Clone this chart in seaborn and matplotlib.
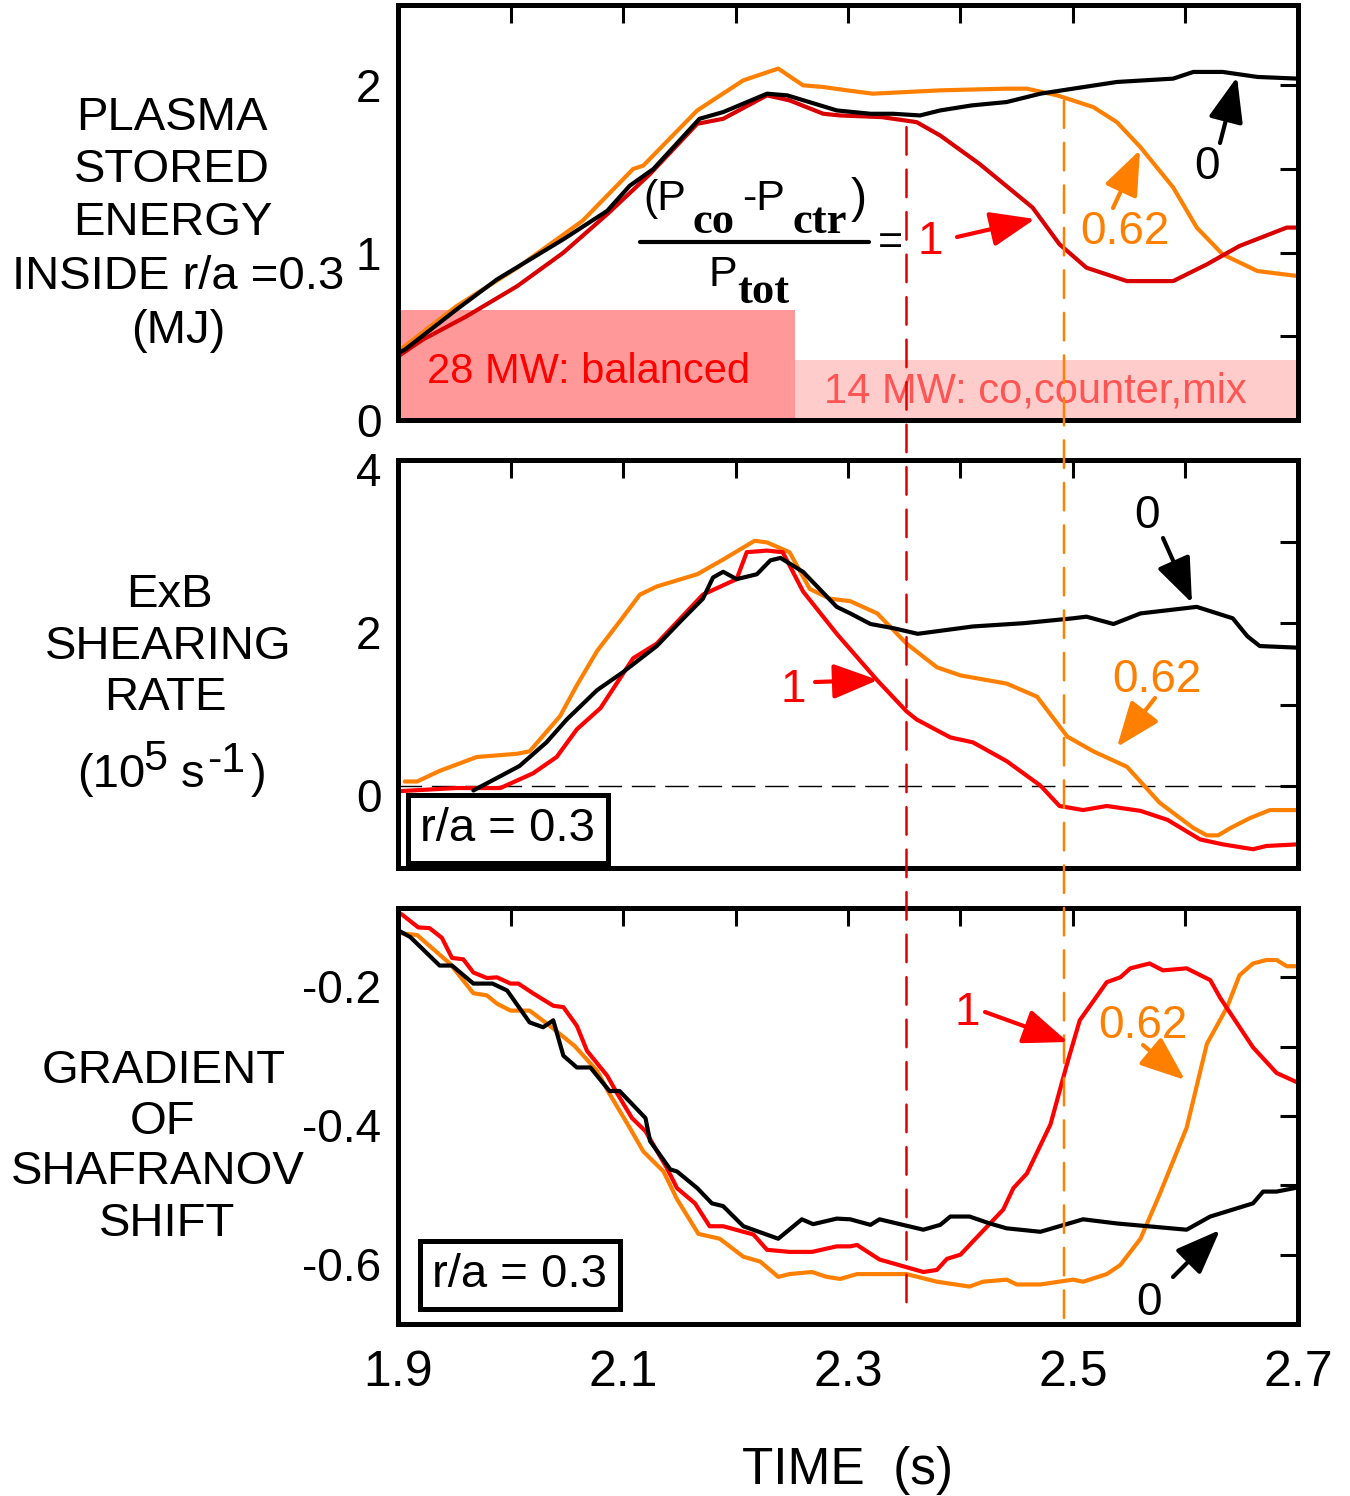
import matplotlib
matplotlib.use("Agg")
import matplotlib.pyplot as plt
import seaborn as sns
from matplotlib.patches import ConnectionPatch, FancyArrowPatch
from matplotlib.lines import Line2D
from matplotlib.ticker import FixedLocator
from matplotlib.transforms import ScaledTranslation

# ======================= DATA =======================
# Panel 1: plasma stored energy inside r/a = 0.3 (MJ)
w_black_t = [1.900, 1.906, 1.952, 1.988, 2.047, 2.086, 2.106, 2.127, 2.168, 2.189, 2.228, 2.246,
             2.290, 2.320, 2.340, 2.364, 2.382, 2.410, 2.441, 2.471, 2.500, 2.539, 2.589, 2.607,
             2.633, 2.664, 2.700]
w_black = [0.40, 0.42, 0.66, 0.84, 1.08, 1.25, 1.40, 1.50, 1.80, 1.84, 1.95, 1.94,
           1.85, 1.83, 1.83, 1.82, 1.85, 1.88, 1.90, 1.95, 1.98, 2.02, 2.04, 2.08,
           2.08, 2.05, 2.04]
w_red_t = [1.900, 1.922, 1.961, 2.006, 2.047, 2.086, 2.124, 2.166, 2.189, 2.228, 2.248, 2.278,
           2.293, 2.330, 2.361, 2.382, 2.417, 2.464, 2.488, 2.512, 2.548, 2.589, 2.619, 2.648,
           2.690, 2.700]
w_red = [0.38, 0.48, 0.62, 0.80, 1.00, 1.23, 1.47, 1.77, 1.80, 1.94, 1.91, 1.83,
         1.82, 1.81, 1.78, 1.70, 1.53, 1.27, 1.05, 0.91, 0.83, 0.83, 0.93, 1.04,
         1.15, 1.15]
w_orange_t = [1.900, 1.952, 2.006, 2.064, 2.109, 2.118, 2.166, 2.207, 2.238, 2.260, 2.278, 2.299,
              2.322, 2.382, 2.441, 2.459, 2.486, 2.518, 2.539, 2.560, 2.589, 2.610, 2.633, 2.664,
              2.700]
w_orange = [0.41, 0.68, 0.91, 1.19, 1.50, 1.52, 1.85, 2.03, 2.10, 2.00, 1.99, 1.97,
            1.95, 1.97, 1.98, 1.98, 1.94, 1.87, 1.78, 1.63, 1.39, 1.15, 0.99, 0.89,
            0.86]

# Panel 2: ExB shearing rate (1e5 s^-1)
s_black_t = [1.967, 2.008, 2.032, 2.050, 2.077, 2.100, 2.130, 2.153, 2.171, 2.180, 2.189, 2.201,
             2.219, 2.231, 2.240, 2.260, 2.290, 2.302, 2.320, 2.340, 2.362, 2.411, 2.456, 2.500,
             2.512, 2.536, 2.560, 2.610, 2.642, 2.655, 2.666, 2.700]
s_black = [-0.05, 0.25, 0.54, 0.82, 1.18, 1.40, 1.72, 2.05, 2.30, 2.56, 2.63, 2.54,
           2.60, 2.77, 2.80, 2.63, 2.20, 2.12, 1.99, 1.94, 1.87, 1.96, 2.00, 2.06,
           2.08, 1.99, 2.12, 2.20, 2.06, 1.84, 1.72, 1.70]
s_red_t = [1.899, 1.952, 1.991, 2.020, 2.041, 2.059, 2.080, 2.109, 2.130, 2.171, 2.201, 2.210,
           2.228, 2.242, 2.260, 2.290, 2.326, 2.352, 2.361, 2.391, 2.411, 2.441, 2.471, 2.488,
           2.509, 2.530, 2.560, 2.584, 2.613, 2.633, 2.660, 2.672, 2.700]
s_red = [-0.06, -0.02, -0.02, 0.16, 0.36, 0.70, 0.96, 1.57, 1.75, 2.35, 2.54, 2.87,
         2.89, 2.87, 2.39, 1.87, 1.30, 0.92, 0.82, 0.60, 0.54, 0.31, 0.01, -0.24,
         -0.29, -0.24, -0.30, -0.41, -0.65, -0.71, -0.77, -0.73, -0.71]
s_orange_t = [1.906, 1.917, 1.937, 1.970, 2.006, 2.017, 2.044, 2.059, 2.077, 2.097, 2.115, 2.130,
              2.166, 2.189, 2.217, 2.228, 2.248, 2.266, 2.284, 2.302, 2.326, 2.352, 2.379, 2.400,
              2.441, 2.468, 2.495, 2.518, 2.548, 2.577, 2.607, 2.619, 2.629, 2.640, 2.657, 2.675,
              2.700]
s_orange = [0.06, 0.06, 0.19, 0.36, 0.40, 0.43, 0.86, 1.24, 1.66, 2.02, 2.35, 2.45,
            2.60, 2.78, 3.01, 2.99, 2.87, 2.42, 2.30, 2.27, 2.12, 1.75, 1.46, 1.36,
            1.26, 1.10, 0.61, 0.43, 0.24, -0.20, -0.51, -0.60, -0.60, -0.51, -0.39, -0.29,
            -0.29]

# Panel 3: gradient of Shafranov shift
g_black_t = [1.900, 1.911, 1.937, 1.948, 1.967, 1.984, 1.997, 2.017, 2.029, 2.038, 2.047, 2.059,
             2.071, 2.088, 2.097, 2.120, 2.124, 2.142, 2.148, 2.166, 2.179, 2.189, 2.207, 2.238,
             2.259, 2.269, 2.290, 2.302, 2.320, 2.328, 2.367, 2.382, 2.391, 2.408, 2.426, 2.441,
             2.471, 2.509, 2.539, 2.601, 2.622, 2.660, 2.669, 2.681, 2.700]
g_black = [-0.132, -0.142, -0.183, -0.183, -0.209, -0.209, -0.219, -0.265, -0.272, -0.262, -0.313, -0.330,
           -0.330, -0.364, -0.364, -0.403, -0.436, -0.477, -0.480, -0.504, -0.526, -0.530, -0.559, -0.577,
           -0.549, -0.556, -0.548, -0.549, -0.557, -0.549, -0.564, -0.557, -0.545, -0.545, -0.555, -0.562,
           -0.567, -0.549, -0.555, -0.564, -0.545, -0.526, -0.509, -0.509, -0.503]
g_red_t = [1.900, 1.904, 1.918, 1.928, 1.939, 1.948, 1.958, 1.967, 1.979, 1.988, 2.000, 2.007,
           2.020, 2.038, 2.047, 2.059, 2.068, 2.086, 2.095, 2.108, 2.120, 2.139, 2.148, 2.164,
           2.177, 2.189, 2.216, 2.228, 2.248, 2.268, 2.290, 2.302, 2.308, 2.328, 2.367, 2.379,
           2.388, 2.400, 2.411, 2.438, 2.447, 2.459, 2.480, 2.495, 2.506, 2.530, 2.542, 2.551,
           2.568, 2.580, 2.601, 2.622, 2.631, 2.660, 2.681, 2.700]
g_red = [-0.106, -0.110, -0.128, -0.129, -0.143, -0.172, -0.174, -0.193, -0.201, -0.200, -0.209, -0.209,
         -0.223, -0.241, -0.243, -0.270, -0.306, -0.342, -0.368, -0.403, -0.422, -0.475, -0.504, -0.526,
         -0.559, -0.559, -0.571, -0.593, -0.596, -0.596, -0.588, -0.588, -0.586, -0.607, -0.625, -0.622,
         -0.606, -0.600, -0.581, -0.535, -0.504, -0.483, -0.412, -0.323, -0.262, -0.207, -0.200, -0.187,
         -0.180, -0.190, -0.187, -0.204, -0.230, -0.301, -0.338, -0.352]
g_orange_t = [1.900, 1.917, 1.946, 1.967, 1.979, 1.988, 2.000, 2.017, 2.035, 2.057, 2.077, 2.088,
              2.106, 2.118, 2.136, 2.148, 2.167, 2.186, 2.207, 2.222, 2.238, 2.248, 2.268, 2.281,
              2.293, 2.308, 2.352, 2.379, 2.408, 2.420, 2.441, 2.450, 2.471, 2.500, 2.509, 2.530,
              2.542, 2.560, 2.577, 2.601, 2.619, 2.637, 2.648, 2.660, 2.672, 2.681, 2.690, 2.700]
g_orange = [-0.136, -0.139, -0.180, -0.223, -0.226, -0.238, -0.248, -0.248, -0.270, -0.299, -0.335, -0.368,
            -0.417, -0.451, -0.480, -0.520, -0.570, -0.577, -0.603, -0.610, -0.632, -0.628, -0.625, -0.632,
            -0.635, -0.628, -0.628, -0.639, -0.646, -0.639, -0.636, -0.643, -0.643, -0.636, -0.639, -0.628,
            -0.615, -0.577, -0.513, -0.417, -0.296, -0.243, -0.197, -0.180, -0.175, -0.175, -0.184, -0.184]

# Beam-power phases (panel 1 shading)
phase_start = [1.900, 2.253]
phase_end = [2.253, 2.700]
phase_level = [0.655, 0.36]
phase_labels = ["28 MW: balanced", "14 MW: co,counter,mix"]

# Times of the back-transitions (vertical dashed lines): ratio 1 and ratio 0.62
transition_t = [2.352, 2.492]

# Axis ticks
x_ticks = [1.9, 2.0, 2.1, 2.2, 2.3, 2.4, 2.5, 2.6, 2.7]
x_ticklabels = ["1.9", "", "2.1", "", "2.3", "", "2.5", "", "2.7"]
y1_ticks = [0, 0.5, 1, 1.5, 2]
y1_ticklabels = ["0", "", "1", "", "2"]
y2_ticks = [-1, 0, 1, 2, 3, 4]
y2_ticklabels = ["", "0", "", "2", "", "4"]
y3_ticks = [-0.7, -0.6, -0.5, -0.4, -0.3, -0.2, -0.1]
y3_ticklabels = ["", "-0.6", "", "-0.4", "", "-0.2", ""]

# ======================= STYLE =======================
sns.set_theme(style="white")
plt.rcParams["font.family"] = ["Liberation Sans", "DejaVu Sans"]
plt.rcParams["axes.unicode_minus"] = False
plt.rcParams["text.color"] = "black"
plt.rcParams["xtick.color"] = "black"
plt.rcParams["ytick.color"] = "black"
plt.rcParams["axes.labelcolor"] = "black"

BLACK = "#000000"
RED1 = "#d80000"
RED = "#ff0000"
ORANGE = "#ff8000"

W, H = 1350, 1496
fig = plt.figure(figsize=(W / 100, H / 100), dpi=100)


def P(px, py):
    return (px / W, 1 - py / H)


def add_ax(top, bottom):
    return fig.add_axes([398 / W, 1 - bottom / H, 900 / W, (bottom - top) / H])


ax1 = add_ax(5, 420)
ax2 = add_ax(460, 868)
ax3 = add_ax(908, 1324)

# ---- panel 1 shading ----
for s0, s1, lev, col in zip(phase_start, phase_end, phase_level, ["#ff9999", "#ffcccc"]):
    ax1.fill_between([s0, s1], [0, 0], [lev, lev], color=col, lw=0, zorder=0.5)

# ---- curves ----
series = [
    (ax1, w_orange_t, w_orange, ORANGE), (ax1, w_red_t, w_red, RED1), (ax1, w_black_t, w_black, BLACK),
    (ax2, s_orange_t, s_orange, ORANGE), (ax2, s_red_t, s_red, RED), (ax2, s_black_t, s_black, BLACK),
    (ax3, g_orange_t, g_orange, ORANGE), (ax3, g_red_t, g_red, RED), (ax3, g_black_t, g_black, BLACK),
]
for ax, t, v, c in series:
    sns.lineplot(x=t, y=v, ax=ax, color=c, lw=3.0, estimator=None, sort=False, zorder=3)

ax2.axhline(0, color="black", lw=1.0, dashes=(17, 7), zorder=2)

# ---- axes formatting ----
for ax, yt, ytl, ylim in [(ax1, y1_ticks, y1_ticklabels, (0, 2.48)),
                          (ax2, y2_ticks, y2_ticklabels, (-1, 4)),
                          (ax3, y3_ticks, y3_ticklabels, (-0.7, -0.1))]:
    ax.set_xlim(1.9, 2.7)
    ax.set_ylim(*ylim)
    ax.set_xlabel("")
    ax.set_ylabel("")
    ax.xaxis.set_major_locator(FixedLocator(x_ticks))
    ax.yaxis.set_major_locator(FixedLocator(yt))
    ax.set_yticklabels(ytl)
    if ax is ax3:
        ax.set_xticklabels(x_ticklabels)
    else:
        ax.set_xticklabels([""] * len(x_ticks))
    ax.tick_params(which="both", direction="in", top=True, right=True, length=13, width=2.2,
                   color="black", labelcolor="black", labelsize=33, pad=12, zorder=5)
    ax.tick_params(axis="x", pad=19, labelsize=36)
    for sp in ax.spines.values():
        sp.set_linewidth(3.6)
        sp.set_color("black")
        sp.set_zorder(6)
    ax.grid(False)
    ax.set_facecolor("none")

# shift y tick labels of lower panels slightly down (as in reference)
fig.canvas.draw()
for ax in (ax2, ax3):
    for lab in ax.get_yticklabels():
        lab.set_transform(lab.get_transform() + ScaledTranslation(0, -0.09, fig.dpi_scale_trans))

# ---- vertical dashed transition lines spanning panels ----
for tt, ytop, ybot, col in [(transition_t[0], 1.75, -0.678, "#dd0000"),
                            (transition_t[1], 1.91, -0.693, ORANGE)]:
    con = ConnectionPatch(xyA=(tt, ytop), coordsA=ax1.transData,
                          xyB=(tt, ybot), coordsB=ax3.transData,
                          color=col, lw=1.8, linestyle=(0, (11, 6)), zorder=7)
    fig.add_artist(con)


# ---- text helpers ----
def ctext(px, py, s, size, color="black", ha="center", **kw):
    """py = vertical centre of capitals"""
    base = py + 0.358 * size * 100 / 72
    fig.text(px / W, 1 - base / H, s, ha=ha, va="baseline", fontsize=size, color=color, **kw)


def btext(px, pybase, s, size, color="black", ha="left", **kw):
    fig.text(px / W, 1 - pybase / H, s, ha=ha, va="baseline", fontsize=size, color=color, **kw)


def arrow(tail, tip, color):
    fig.add_artist(FancyArrowPatch(P(*tail), P(*tip), transform=fig.transFigure,
                                   arrowstyle="-|>,head_length=1.15,head_width=0.45",
                                   mutation_scale=24, lw=3, color=color,
                                   shrinkA=0, shrinkB=0, zorder=8))


# ---- y-axis labels ----
LS = 34
for s, x, y in [("PLASMA", 172, 113), ("STORED", 172, 165), ("ENERGY", 173, 218),
                ("INSIDE r/a =0.3", 178, 272), ("(MJ)", 178, 326)]:
    ctext(x, y, s, LS)
for s, x, y in [("ExB", 169, 590), ("SHEARING", 168, 642), ("RATE", 165, 693)]:
    ctext(x, y, s, LS)
# (10^5 s^-1) built from pieces so the superscripts stay large, as in the reference
btext(77, 787, "(10", LS)
btext(143, 770, "5", 31)
btext(181, 787, "s", LS)
btext(207, 772, "-1", 31)
btext(251, 787, ")", LS)
for s, x, y in [("GRADIENT", 164, 1066), ("OF", 163, 1117), ("SHAFRANOV", 158, 1167),
                ("SHIFT", 167, 1219)]:
    ctext(x, y, s, LS)

# x label
ctext(847, 1466, "TIME  (s)", 37)

# ---- phase labels ----
btext(427, 383, phase_labels[0], 30, color="#ff0000")
btext(824, 402, phase_labels[1], 30, color="#ff5555")

# ---- fraction (Pco - Pctr)/Ptot = 1 ----
FS = 31
btext(643, 210, "(P", FS)
btext(693, 233, "co", FS + 1, family="Liberation Serif", weight="bold")
btext(742, 210, "-P", FS)
btext(793, 233, "ctr", FS + 1, family="Liberation Serif", weight="bold")
btext(851, 212, ")", FS + 4)
fig.add_artist(Line2D([640 / W, 869 / W], [1 - 242 / H] * 2, transform=fig.transFigure,
                      color="black", lw=3))
btext(708, 286, "P", FS)
btext(737, 303, "tot", FS + 1, family="Liberation Serif", weight="bold")
ctext(890, 239, "=", FS)

# ---- curve annotations ----
AS = 33
# panel 1
ctext(930, 238, "1", AS, color=RED)
arrow((957, 237), (1035, 219), RED)
ctext(1125, 228, "0.62", AS, color=ORANGE)
arrow((1113, 208), (1140, 150), ORANGE)
ctext(1207, 163, "0", AS)
arrow((1220, 143), (1237, 77), BLACK)
# panel 2
ctext(1147, 512, "0", AS)
arrow((1163, 538), (1192, 603), BLACK)
ctext(793, 686, "1", AS, color=RED)
arrow((815, 682), (878, 680), RED)
ctext(1157, 676, "0.62", AS, color=ORANGE)
arrow((1155, 698), (1117, 747), ORANGE)
# panel 3
ctext(967, 1009, "1", AS, color=RED)
arrow((985, 1012), (1068, 1042), RED)
ctext(1143, 1022, "0.62", AS, color=ORANGE)
arrow((1143, 1045), (1185, 1080), ORANGE)
ctext(1149, 1299, "0", AS)
arrow((1173, 1277), (1220, 1230), BLACK)

# ---- r/a = 0.3 boxes ----
for ax, (cx, cy) in [(ax2, (508, 829)), (ax3, (520, 1275))]:
    fig.text(cx / W, 1 - cy / H, "r/a = 0.3", ha="center", va="center", fontsize=34,
             zorder=9, bbox=dict(boxstyle="square,pad=0.26", fc="white", ec="black", lw=3.6))

fig.savefig("out.png", dpi=100)
